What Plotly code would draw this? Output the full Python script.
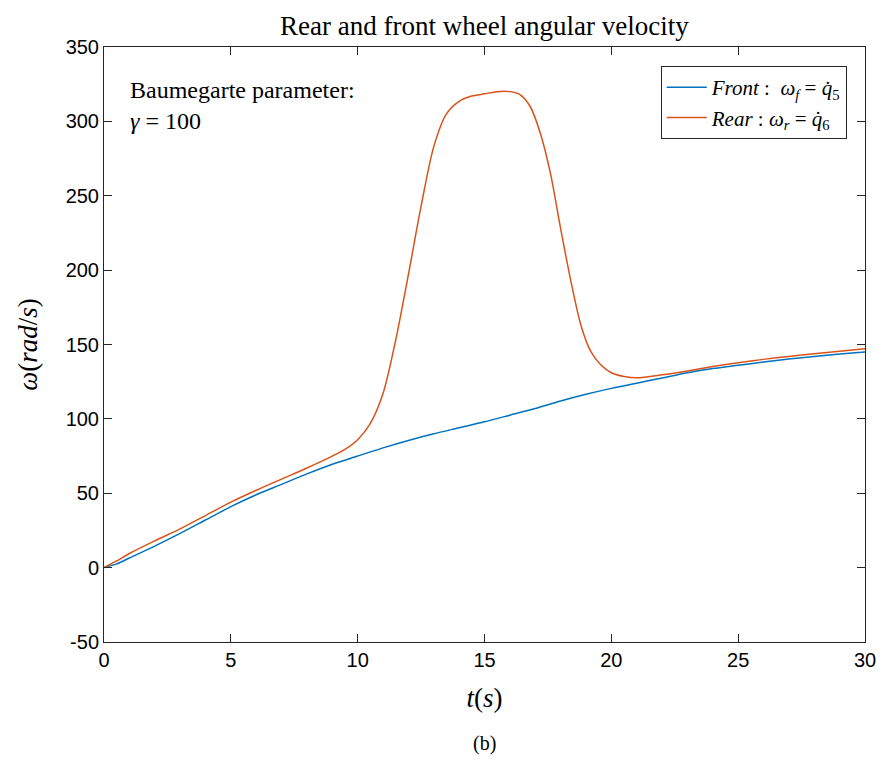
import plotly.graph_objects as go

# Front wheel angular velocity (rad/s) vs time (s)
t_front = [0, 0.5, 1, 2, 3, 4, 5, 6, 7, 8, 9, 10, 11, 12, 13, 14, 15,
           16, 17, 18, 19, 20, 21, 22, 23, 24, 25, 26, 27, 28, 29, 30]
w_front = [0, 2.5, 6.5, 14.5, 23, 32, 41, 49, 56, 63, 69.5, 75, 80.5, 85.5,
           90, 94, 98, 102.5, 107, 112, 116.5, 120.5, 124, 127.5, 131, 133.8,
           136, 138.2, 140.2, 142, 143.6, 145]

# Rear wheel angular velocity (rad/s) vs time (s)
t_rear = [0, 0.5, 1, 2, 3, 4, 5, 6, 7, 8, 9, 9.5, 10, 10.5, 11, 11.5, 12,
          12.5, 13, 13.5, 14, 14.5, 15, 15.5, 16, 16.4, 16.8, 17.2, 17.6, 18,
          18.4, 18.8, 19.2, 19.6, 20, 20.5, 21, 22, 23, 24, 25, 26, 27, 28,
          29, 30]
w_rear = [0, 4.5, 9.5, 18, 26, 35, 44, 52, 59.5, 67, 75, 79.5, 86, 97, 117,
          153, 197, 243, 283, 305, 313.5, 317, 318.5, 320, 320, 318, 310, 292,
          265, 228, 193, 163, 145, 136, 131, 128.5, 127.6, 129.6, 132.2, 135.2,
          137.8, 140, 142, 143.8, 145.5, 147.1]

x_ticks = [0, 5, 10, 15, 20, 25, 30]
y_ticks = [-50, 0, 50, 100, 150, 200, 250, 300, 350]
y_tick_text = ["-50", "0", "50", "100", "150", "200", "250", "300", "350"]

SERIF = "Liberation Serif"
SANS = "Liberation Sans"
AXIS_COLOR = "#262626"

fig = go.Figure()
fig.add_trace(go.Scatter(
    x=t_front, y=w_front, mode="lines",
    line=dict(color="#0072BD", width=1.5, shape="spline", smoothing=0.8),
    name="<i>Front</i> :  <i>ω<sub>f</sub></i> = <i>q̇</i><sub>5</sub>",
))
fig.add_trace(go.Scatter(
    x=t_rear, y=w_rear, mode="lines",
    line=dict(color="#D95319", width=1.5, shape="spline", smoothing=0.8),
    name="<i>Rear</i> : <i>ω<sub>r</sub></i> = <i>q̇</i><sub>6</sub>",
))

axis_common = dict(
    showgrid=False, zeroline=False, showline=True, linecolor=AXIS_COLOR,
    linewidth=1, mirror="ticks", ticks="inside", ticklen=8,
    tickcolor=AXIS_COLOR, tickwidth=1,
    tickfont=dict(family=SANS, size=20, color="black"),
)

fig.update_layout(
    width=888, height=760,
    margin=dict(l=104, r=23, t=47, b=118),
    paper_bgcolor="white", plot_bgcolor="white",
    title=dict(text="Rear and front wheel angular velocity",
               x=0.5455, xanchor="center", y=0.967, yanchor="middle",
               font=dict(family=SERIF, size=27, color="black")),
    xaxis=dict(range=[0, 30], tickvals=x_ticks,
               title=dict(text="<i>t</i>(<i>s</i>)", standoff=18,
                          font=dict(family=SERIF, size=27, color="black")),
               **axis_common),
    yaxis=dict(range=[-50, 350], tickvals=y_ticks, ticktext=y_tick_text,
               title=dict(text="<i>ω</i>(<i>rad</i>/<i>s</i>)", standoff=20,
                          font=dict(family=SERIF, size=27, color="black")),
               **axis_common),
    legend=dict(x=0.976, xanchor="right", y=0.968, yanchor="top",
                bordercolor=AXIS_COLOR, borderwidth=1, bgcolor="white",
                font=dict(family=SERIF, size=21, color="black"),
                itemwidth=40, tracegroupgap=0),
    showlegend=True,
)

fig.add_annotation(
    text="Baumegarte parameter:<br><i>γ</i> = 100",
    xref="paper", yref="paper", x=0.031, y=0.953, xanchor="left", yanchor="top",
    showarrow=False, align="left",
    font=dict(family=SERIF, size=24, color="black"),
)
fig.add_annotation(
    text="(b)", xref="paper", yref="paper", x=0.5, y=-0.17,
    xanchor="center", yanchor="middle", showarrow=False,
    font=dict(family=SERIF, size=20, color="black"),
)

fig.write_html("out.html")
